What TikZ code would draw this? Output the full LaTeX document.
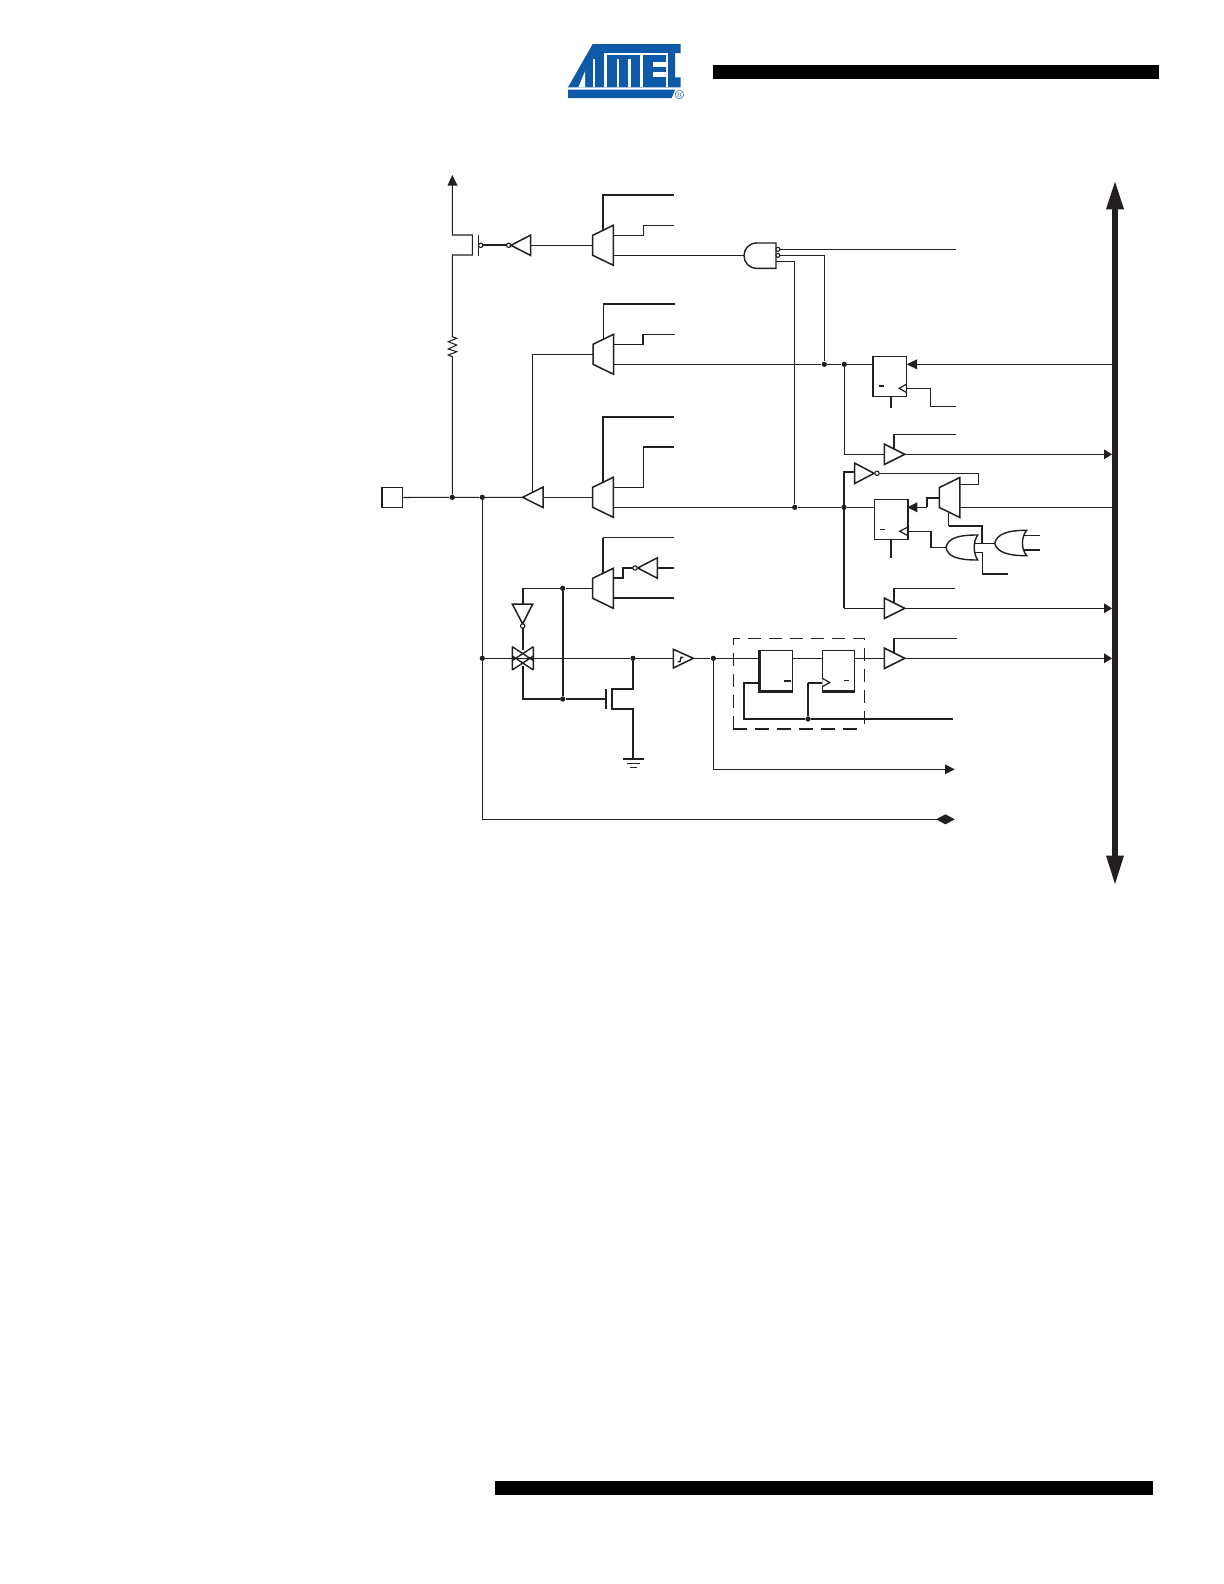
\documentclass[tikz,border=0pt]{standalone}
\usetikzlibrary{calc}
\definecolor{ink}{HTML}{231F20}
\definecolor{logoblue}{HTML}{0F5AA8}
\tikzset{
  wire/.style={line width=0.52bp,draw=ink,line join=miter},
  midw/.style={line width=0.7bp,draw=ink,line join=miter},
  hw/.style={line width=1.05bp,draw=ink,line join=miter},
  gateline/.style={line width=0.75bp,draw=ink,fill=white,line join=miter},
  dotn/.style={circle,fill=ink,inner sep=0pt,minimum size=2.5bp},
  bub/.style={circle,draw=ink,fill=white,line width=0.55bp,inner sep=0pt,minimum size=2.2bp},
  headfill/.style={fill=ink,draw=none},
}
% name, left x, centre y
\newcommand{\mymux}[3]{%
  \draw[gateline] (#2,#3-10) -- ({#2+20.6},#3-20) -- ({#2+20.6},#3+20) -- (#2,#3+10) -- cycle;
  \coordinate (#1-in) at (#2,#3);
  \coordinate (#1-s) at ({#2+10},#3-15);
  \coordinate (#1-a) at ({#2+20.6},#3-10);
  \coordinate (#1-b) at ({#2+20.6},#3+10);
}
% name, base x, centre y, signed length
\newcommand{\mybuf}[4]{%
  \draw[gateline] (#2,#3-10.2) -- ({#2+#4},#3) -- (#2,#3+10.2) -- cycle;
  \coordinate (#1-in) at (#2,#3);
  \coordinate (#1-out) at ({#2+#4},#3);
  \coordinate (#1-s) at ({#2+#4/2},#3-5);
}
% right-pointing arrow head: tip x, y
\newcommand{\busarrow}[2]{\fill[headfill] ({#1-8},#2-5) -- (#1,#2) -- ({#1-8},#2+5) -- cycle;}
\begin{document}
\begin{tikzpicture}[x=0.5bp,y=-0.5bp]
\useasboundingbox (0,0) rectangle (1224,1584);

% header / footer bars
\fill[black] (713,64.6) rectangle (1159,78.8);
\fill[black] (495,1481) rectangle (1153,1495);

% logo
\begin{scope}[shift={(560,38)},x=0.16667bp,y=-0.16667bp]
  \fill[logoblue] (24,148) -- (98,18) -- (362,18) -- (362,45) -- (345,45) -- (345,118) -- (362,118) -- (362,148) -- cycle;
  \fill[logoblue] (24,155) -- (345,155) -- (335,180) -- (24,180) -- cycle;
  \fill[white] (55,148) -- (75,148) -- (75,100) -- cycle;
  \fill[white] (100,62) rectangle (105,148);
  \fill[white] (132,44) rectangle (140,148);
  \fill[white] (140,44) rectangle (325,50);
  \fill[white] (170,62) rectangle (178,148);
  \fill[white] (205,62) rectangle (212,148);
  \fill[white] (240,44) rectangle (248,148);
  \fill[white] (278,72) rectangle (318,86);
  \fill[white] (278,102) rectangle (318,116);
  \fill[white] (318,44) rectangle (325,148);
\end{scope}
\node[text=logoblue,font=\fontsize{6.5}{6.5}\selectfont,inner sep=0pt] (reg) at (679.5,94.7) {\textregistered};

% named junctions
\node[dotn] (dA) at (452.3,497.3) {};
\node[dotn] (dB) at (482.3,497.3) {};
\node[dotn] (dC) at (482.3,658.3) {};
\node[dotn] (dD) at (562.7,588.3) {};
\node[dotn] (dE) at (562.7,699) {};
\node[dotn] (dF) at (633,658.3) {};
\node[dotn] (dG) at (713.3,658.3) {};
\node[dotn] (dH) at (808,719) {};
\node[dotn] (dJ) at (824.3,364.3) {};
\node[dotn] (dK) at (844.3,364.3) {};
\node[dotn] (dL) at (794.7,507.3) {};
\node[dotn] (dM) at (844,507.3) {};

% port
\node[draw=ink,line width=0.6bp,minimum width=10.2bp,minimum height=10.2bp,inner sep=0pt] (port) at (392.6,497.5) {};
\draw[line width=1bp,ink] (port.north west) -- (port.south west);

% bus
\fill[ink] (1112,205) rectangle (1118,858);
\fill[ink] (1115,181.7) -- (1124,209.3) -- (1106,209.3) -- cycle;
\fill[ink] (1115,884) -- (1124,855.5) -- (1106,855.5) -- cycle;

% wires main
\draw[wire] (port.east) -- (dA) -- (dB) -- (522.7,497.3);
\draw[wire] (543,497.3) -- (592.7,497.3);
% pull-up
\coordinate (pd) at (452.3,255);
\coordinate (ps) at (452.3,235);
\draw[wire] (452.3,185) -- (ps) -- (472.3,235) -- (472.3,255) -- (pd) -- (452.3,336.7)
  -- (456.7,338.3) -- (448.3,341.7) -- (456.7,345) -- (448.3,349) -- (456.7,351.7) -- (448.3,355) -- (452.3,356.7) -- (dA);
\fill[ink] (452.3,175) -- (457.6,185.5) -- (447.5,185.5) -- cycle;
\draw[midw] (478.3,235) -- (478.3,255.5);
\draw[hw] (480.7,245.3) -- (508.7,245.3);
\node[bub] (pg) at (480.7,245.3) {};
\node[bub] (pi) at (508.7,245.3) {};
\mybuf{invA}{530.7}{245.3}{-19.8}
\draw[wire] (invA-in) -- (592.7,245.3);

% mux 1
\draw[hw] (602.7,232) -- (602.7,194.7) -- (674,194.7);
\draw[wire] (613.3,235.3) -- (643.3,235.3) -- (643.3,225.3) -- (674,225.3);
\draw[wire] (613.3,255.3) -- (744,255.3);
\mymux{mA}{592.7}{245.3}

% mux 2
\draw[wire] (603.3,340) -- (603.3,303.7);
\draw[hw] (603.3,303.7) -- (674.7,303.7);
\draw[wire] (613.3,344.3) -- (643.3,344.3);
\draw[hw] (643.3,345) -- (643.3,334.3);
\draw[wire] (643.3,334.3) -- (674.7,334.3);
\draw[wire] (613.3,364.3) -- (dJ) -- (dK) -- (873.7,364.3);
\draw[wire] (593.7,354.3) -- (532.3,354.3) -- (532.3,492);
\mymux{mB}{593}{354.3}

% mux 3
\draw[hw] (602.7,483) -- (602.7,417) -- (674,417);
\draw[wire] (613.3,487.3) -- (643.3,487.3) -- (643.3,446.7);
\draw[hw] (643.3,446.7) -- (674,446.7);
\draw[wire] (613.3,507.3) -- (dL) -- (dM) -- (874.3,507.3);
\mymux{mC}{592.7}{497.3}
\mybuf{bufA}{543}{497.3}{-20.3}

% mux 4
\draw[hw] (602.7,574) -- (602.7,537.7);
\draw[wire] (602.7,537.7) -- (674,537.7);
\draw[hw] (613.3,578) -- (623.3,578) -- (623.3,568) -- (633,568);
\draw[hw] (657.3,568) -- (674,568);
\draw[hw] (613.3,598.3) -- (674,598.3);
\node[bub] (pj) at (635,568) {};
\mymux{mD}{592.7}{588.3}
\mybuf{invB}{657.3}{568}{-19.6}

% pass gate + control
\draw[wire] (592.7,588.3) -- (dD) -- (522.7,588.3);
\draw[hw] (522.7,604) -- (522.7,588.3);
\draw[hw] (dD) -- (dE);
\draw[hw] (522.7,626) -- (522.7,650);
\draw[hw] (522.7,666) -- (522.7,699) -- (dE) -- (606,699);
\draw[gateline] (512.3,604) -- (532.7,604) -- (522.7,624) -- cycle;
\node[bub] (pk) at (522.7,626) {};

% main horizontal
\draw[wire] (dB) -- (dC) -- (dF) -- (673.3,658.3);
% transmission gate
\draw[midw] (512.3,646.7) -- (512.3,670) (533.3,646.7) -- (533.3,670)
  (512.3,646.7) -- (533.3,660.5) (533.3,646.7) -- (512.3,660.5)
  (512.3,656) -- (533.3,670) (533.3,656) -- (512.3,670);

% NFET
\draw[hw] (606,688.7) -- (606,709.3);
\draw[hw] (dF) -- (633,688.7) -- (612.3,688.7) -- (612.3,709.3) -- (633,709.3) -- (633,719);
\draw[wire] (633,719) -- (633,759);
\draw[wire] (622.7,759) -- (644,759) (626.7,763.3) -- (640,763.3) (630,767.5) -- (636.7,767.5);

% schmitt
\draw[gateline] (673.3,649.3) -- (693.3,658.3) -- (673.3,668) -- cycle;
\draw[midw] (677.7,661.7) -- (680,661.7) -- (681,657.3) -- (683.3,657.3);
\draw[wire] (693.3,658.3) -- (dG) -- (760,658.3);
\draw[wire] (dG) -- (713.3,769.3) -- (946,769.3);
\fill[ink] (945,764.3) -- (954.7,769.3) -- (945,774.3) -- cycle;
\draw[wire] (dB) -- (482.3,819.3) -- (940,819.3);
\fill[ink] (936,819.3) -- (945.5,814.3) -- (954.7,819.3) -- (945.5,824.3) -- cycle;

% sync box
\draw[wire,dash pattern=on 6.5bp off 4bp] (733.3,728.7) -- (733.3,638.3) -- (864.3,638.3) -- (864.3,725);
\draw[hw,dash pattern=on 7bp off 4bp] (733.3,728.7) -- (860,728.7);
\draw[hw] (760,682.7) -- (743.7,682.7) -- (743.7,719) -- (dH) -- (953.3,719);
\draw[wire] (dH) -- (808,682.7);
\draw[hw] (808,682.7) -- (822.3,682.7);
\draw[wire] (792.3,658.3) -- (822.3,658.3) (854.3,658.3) -- (884.3,658.3);
\node[draw=ink,line width=0.7bp,minimum width=16.15bp,minimum height=20.35bp,inner sep=0pt] (ffA) at (776.15,670.65) {};
\draw[hw] (ffA.north west) -- (ffA.south west) -- (ffA.south east);
\draw[hw] (784,680.7) -- (790.7,680.7);
\node[draw=ink,line width=0.7bp,minimum width=16bp,minimum height=20.35bp,inner sep=0pt] (ffB) at (838.3,670.65) {};
\draw[hw] (ffB.south west) -- (ffB.south east);
\draw[wire] (844,680.7) -- (849,680.7);
\draw[line width=0.6bp,ink,fill=white] (822.3,678.3) -- (829.7,682.5) -- (822.3,686.7);
% sync output buffer
\draw[wire] (894,653) -- (894,638.3) -- (957.3,638.3);
\draw[wire] (904.7,658.3) -- (1105,658.3);
\mybuf{bufD}{884.3}{658.3}{20.4}
\busarrow{1112}{658.3}

% AND
\draw[wire] (779.7,249.3) -- (955.7,249.3);
\draw[wire] (779.7,255.3) -- (dJ |- 0,255.3) -- (dJ);
\draw[wire] (776,261.3) -- (794.7,261.3) -- (dL);
\draw[midw,fill=white] (776,243) -- (756.7,243) .. controls (749,243) and (744,249) .. (744,255.6) .. controls (744,262.5) and (749,268.3) .. (756.7,268.3) -- (776,268.3) -- cycle;
\node[bub,minimum size=2bp] (ba) at (777.9,249.3) {};
\node[bub,minimum size=2bp] (bb) at (777.9,255.3) {};

% FF 1
\node[draw=ink,line width=0.7bp,minimum width=16.5bp,minimum height=20.2bp,inner sep=0pt] (ffC) at (890.2,376.5) {};
\draw[hw] (ffC.north west) -- (ffC.south west);
\draw[wire] (879.3,386) -- (884.3,386);
\draw[line width=0.6bp,ink] (906.7,384) -- (899.3,388.3) -- (906.7,392.7);
\draw[wire] (906.7,388.3) -- (930.7,388.3) -- (930.7,406.7) -- (955.7,406.7);
\draw[hw] (891,396.7) -- (891,407.7);
\draw[wire] (1112,364.3) -- (917,364.3);
\fill[ink] (917,359.3) -- (906.7,364.3) -- (917,369.3) -- cycle;

% buffer 1
\draw[wire] (dK) -- (844.3,454.3) -- (884.3,454.3);
\draw[wire] (894,449) -- (894,434.3) -- (955.7,434.3);
\draw[wire] (904.7,454.3) -- (1105,454.3);
\mybuf{bufB}{884.3}{454.3}{20.4}
\busarrow{1112}{454.3}

% inverter and mux 5
\draw[hw] (854.7,472.3) -- (844,472.3) -- (844,608.3);
\draw[midw] (844,608.3) -- (884.3,608.3);
\mybuf{invC}{854.7}{473.3}{19.3}
\draw[wire] (879,473.3) -- (978.3,473.3) -- (978.3,484.3) -- (959.7,484.3);
\node[bub] (pl) at (877,473.3) {};
\draw[wire] (959.7,507.3) -- (1112,507.3);
\draw[wire] (948.7,512.7) -- (948.7,526);
\draw[hw] (948.7,526) -- (982.3,526) -- (982.3,543.3);
\draw[hw] (926.7,507.3) -- (926.7,497.7) -- (939.3,497.7);
\draw[wire] (917,507.3) -- (926.7,507.3);
\mymux{mE}{939.3}{497.5}
\fill[ink] (917.3,502.3) -- (907.3,507.3) -- (917.3,512.3) -- cycle;

% FF 2
\node[draw=ink,line width=0.7bp,minimum width=16.5bp,minimum height=20bp,inner sep=0pt] (ffD) at (890.8,519.3) {};
\draw[hw] (ffD.north east) -- (ffD.south east);
\draw[wire] (880.3,529.3) -- (885,529.3);
\draw[line width=0.6bp,ink] (907.3,527.3) -- (899.7,531.3) -- (907.3,535.3);
\draw[wire] (891,539.3) -- (891,558.3);
\draw[midw] (907.3,531.3) -- (931,531.3) -- (931,547.7) -- (946,547.7);

% OR gates
\draw[wire] (973,543.7) -- (994.7,543.7);
\draw[wire] (974,552.3) -- (982.3,552.3) -- (982.3,574);
\draw[hw] (982.3,574) -- (1007.7,574);
\draw[midw,fill=white] (946,547.5) .. controls (948,538) and (958,535) .. (977.7,535)
  .. controls (973,542) and (973,553) .. (977.7,560)
  .. controls (958,560) and (948,557) .. (946,547.5) -- cycle;
\draw[wire] (1020,535.3) -- (1040,535.3) (1020,550) -- (1040,550);
\draw[midw,fill=white] (994.7,543.3) .. controls (997,534) and (1007,530.3) .. (1026.7,530.3)
  .. controls (1021,537) and (1021,549) .. (1026.7,555.7)
  .. controls (1007,555.7) and (997,552) .. (994.7,543.3) -- cycle;

% buffer 3
\draw[wire] (894,603) -- (894,588.3) -- (955.3,588.3);
\draw[wire] (904.7,608.3) -- (1105,608.3);
\mybuf{bufC}{884.3}{608.3}{20.4}
\busarrow{1112}{608.3}

% dots on top
\foreach \n in {dA,dB,dC,dD,dE,dF,dG,dH,dJ,dK,dL,dM}{\fill[ink] (\n) circle (1.25bp);}
\end{tikzpicture}
\end{document}
